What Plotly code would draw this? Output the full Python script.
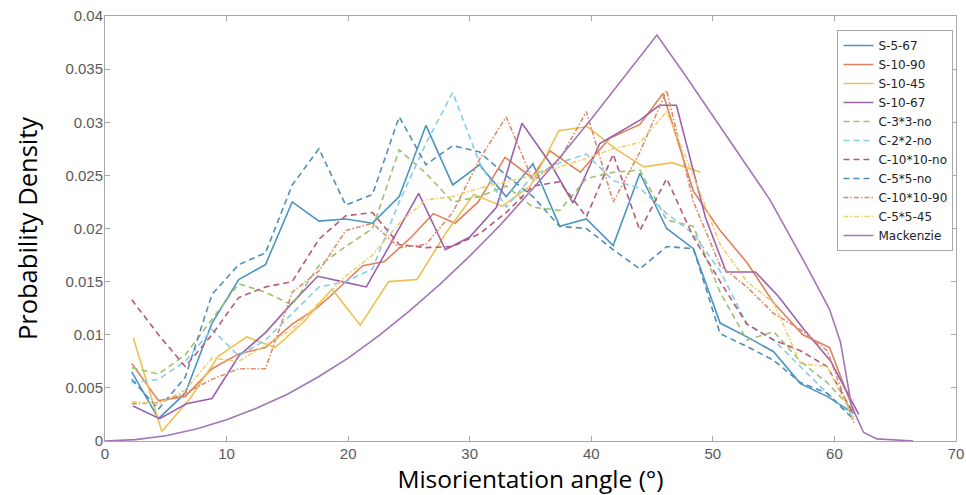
import plotly.graph_objects as go

# ---------------- data ----------------
grid_x = [2.2, 4.4, 6.6, 8.8, 11.0, 13.2, 15.4, 17.6, 19.8, 22.0, 24.2, 26.4, 28.6, 30.8,
          33.0, 35.2, 37.4, 39.6, 41.8, 44.0, 46.2, 48.4, 50.6, 52.8, 55.0, 57.2, 59.4, 61.6]

s_5_67 = [0.0065, 0.0021, 0.0045, 0.0111, 0.0152, 0.0166, 0.0225, 0.0207, 0.0209, 0.0205,
          0.0230, 0.0297, 0.0241, 0.0260, 0.0230, 0.0261, 0.0202, 0.0209, 0.0184, 0.0252,
          0.0200, 0.0181, 0.0111, 0.0098, 0.0084, 0.0054, 0.0042, 0.0026]

s_10_90_x = [2.2, 4.4, 6.6, 8.8, 11.0, 13.2, 15.4, 17.4, 18.5, 21.2, 23.0, 25.2, 27.0, 28.8,
             30.7, 32.9, 35.1, 36.6, 39.1, 41.5, 44.0, 45.9, 48.4, 50.6, 52.8, 55.0, 57.4,
             59.6, 61.6]
s_10_90 = [0.0073, 0.0038, 0.0042, 0.0068, 0.0082, 0.0088, 0.0110, 0.0125, 0.0136, 0.0165,
           0.0169, 0.0192, 0.0214, 0.0205, 0.0225, 0.0267, 0.0248, 0.0273, 0.0253, 0.0285,
           0.0298, 0.0327, 0.0235, 0.0198, 0.0168, 0.0130, 0.0100, 0.0088, 0.0028]

s_10_45_x = [2.33, 4.67, 7.0, 9.33, 11.67, 14.0, 16.33, 18.67, 21.0, 23.33, 25.67, 28.0,
             30.33, 32.67, 35.0, 37.33, 39.67, 42.0, 44.33, 46.67, 49.0]
s_10_45 = [0.0097, 0.0009, 0.0040, 0.0080, 0.0098, 0.0088, 0.0112, 0.0143, 0.0109, 0.0150,
           0.0152, 0.0195, 0.0232, 0.0221, 0.0240, 0.0292, 0.0296, 0.0275, 0.0258, 0.0262,
           0.0253]

s_10_67_x = [2.3, 4.5, 6.7, 8.8, 11.0, 13.2, 15.4, 17.5, 19.5, 21.5, 25.8, 28.0, 30.0, 32.2,
             34.3, 36.7, 38.5, 40.7, 44.0, 45.6, 47.0, 49.4, 51.1, 53.5, 55.4, 57.5, 59.7, 62.0]
s_10_67 = [0.0033, 0.0021, 0.0035, 0.0040, 0.0080, 0.0102, 0.0130, 0.0155, 0.0150, 0.0145,
           0.0233, 0.0180, 0.0192, 0.0220, 0.0299, 0.0260, 0.0224, 0.0280, 0.0302, 0.0316,
           0.0316, 0.0210, 0.0159, 0.0159, 0.0136, 0.0105, 0.0075, 0.0025]

c_3x3_no = [0.0069, 0.0063, 0.0081, 0.0115, 0.0148, 0.0140, 0.0128, 0.0165, 0.0183, 0.0200,
            0.0274, 0.0252, 0.0225, 0.0230, 0.0240, 0.0220, 0.0217, 0.0247, 0.0253, 0.0255,
            0.0208, 0.0202, 0.0140, 0.0095, 0.0103, 0.0075, 0.0055, 0.0028]

c_2x2_no = [0.0055, 0.0058, 0.0075, 0.0105, 0.0080, 0.0095, 0.0120, 0.0145, 0.0150, 0.0162,
            0.0225, 0.0280, 0.0328, 0.0262, 0.0220, 0.0250, 0.0262, 0.0270, 0.0245, 0.0238,
            0.0214, 0.0195, 0.0160, 0.0110, 0.0095, 0.0070, 0.0045, 0.0022]

c_10x10_no = [0.0133, 0.0100, 0.0070, 0.0100, 0.0135, 0.0145, 0.0150, 0.0190, 0.0212, 0.0215,
              0.0185, 0.0182, 0.0183, 0.0195, 0.0215, 0.0240, 0.0244, 0.0211, 0.0270, 0.0198,
              0.0247, 0.0192, 0.0150, 0.0110, 0.0095, 0.0085, 0.0070, 0.0025]

c_5x5_no = [0.0058, 0.0030, 0.0060, 0.0138, 0.0166, 0.0177, 0.0241, 0.0275, 0.0222, 0.0232,
            0.0305, 0.0260, 0.0278, 0.0272, 0.0250, 0.0230, 0.0202, 0.0200, 0.0180, 0.0162,
            0.0183, 0.0181, 0.0101, 0.0089, 0.0076, 0.0055, 0.0045, 0.0020]

c_10x10_90 = [0.0035, 0.0036, 0.0045, 0.0058, 0.0068, 0.0068, 0.0140, 0.0160, 0.0198, 0.0205,
              0.0182, 0.0185, 0.0215, 0.0265, 0.0305, 0.0245, 0.0265, 0.0310, 0.0225, 0.0272,
              0.0330, 0.0225, 0.0165, 0.0145, 0.0120, 0.0105, 0.0085, 0.0017]

c_5x5_45 = [0.0037, 0.0035, 0.0048, 0.0078, 0.0075, 0.0090, 0.0105, 0.0130, 0.0155, 0.0175,
            0.0205, 0.0227, 0.0230, 0.0238, 0.0244, 0.0250, 0.0258, 0.0266, 0.0275, 0.0281,
            0.0310, 0.0250, 0.0185, 0.0150, 0.0130, 0.0073, 0.0070, 0.0020]

mack_x = [0, 2.5, 5, 7.5, 10, 12.5, 15, 17.5, 20, 22.5, 25, 27.5, 30, 32.5, 35, 37.5, 40,
          42.5, 45.4, 47.5, 50, 52.5, 54.7, 57.5, 59.6, 60.5, 61.4, 62.4, 63.5, 66.5]
mack_y = [0.0, 0.00013, 0.0005, 0.00112, 0.0020, 0.0031, 0.0044, 0.0060, 0.0078, 0.0099,
          0.0122, 0.0147, 0.0174, 0.0203, 0.0235, 0.0268, 0.0303, 0.0340, 0.0382, 0.0348,
          0.0306, 0.0265, 0.0227, 0.0169, 0.0124, 0.0093, 0.0033, 0.0008, 0.0002, 0.0]

x_ticks = [0, 10, 20, 30, 40, 50, 60, 70]
y_ticks = [0, 0.005, 0.01, 0.015, 0.02, 0.025, 0.03, 0.035, 0.04]
y_tick_text = ["0", "0.005", "0.01", "0.015", "0.02", "0.025", "0.03", "0.035", "0.04"]

# ---------------- figure ----------------
DASH = "6px,4px"
DASHDOT = "5px,2px,1.5px,2px"

series = [
    ("S-5-67", grid_x, s_5_67, "#4b94c3", "solid"),
    ("S-10-90", s_10_90_x, s_10_90, "#e0825a", "solid"),
    ("S-10-45", s_10_45_x, s_10_45, "#efc04f", "solid"),
    ("S-10-67", s_10_67_x, s_10_67, "#9a62ad", "solid"),
    ("C-3*3-no", grid_x, c_3x3_no, "#9cc26c", DASH),
    ("C-2*2-no", grid_x, c_2x2_no, "#84cdec", DASH),
    ("C-10*10-no", grid_x, c_10x10_no, "#b35a78", DASH),
    ("C-5*5-no", grid_x, c_5x5_no, "#4f8fb8", DASH),
    ("C-10*10-90", grid_x, c_10x10_90, "#de8b6a", DASHDOT),
    ("C-5*5-45", grid_x, c_5x5_45, "#f1cf6a", DASHDOT),
    ("Mackenzie", mack_x, mack_y, "#a474b8", "solid"),
]

fig = go.Figure()
for name, xs, ys, color, dash in series:
    fig.add_trace(go.Scatter(
        x=xs, y=ys, name=name, mode="lines",
        line=dict(color=color, width=1.6, dash=dash),
    ))

axis_common = dict(
    automargin=False,
    showline=True, linecolor="#a8a8a8", linewidth=1, mirror="ticks",
    ticks="inside", ticklen=5, tickcolor="#a8a8a8", tickwidth=1,
    showgrid=False, zeroline=False,
    tickfont=dict(family="Liberation Sans, Arial", size=15, color="#5a5a5a"),
)

fig.update_layout(
    width=966, height=495,
    margin=dict(l=105, r=10, t=16, b=54),
    paper_bgcolor="white", plot_bgcolor="white",
    showlegend=True,
    legend=dict(
        x=0.997, y=0.967, xanchor="right", yanchor="top",
        bgcolor="white", bordercolor="#a8a8a8", borderwidth=1,
        font=dict(family="DejaVu Sans", size=12, color="#222222"),
        tracegroupgap=0, itemwidth=30,
    ),
    xaxis=dict(
        range=[0, 70], tickvals=x_ticks, ticklabelstandoff=-1,
        title=dict(text="Misorientation angle (°)", standoff=6,
                   font=dict(family="Open Sans", size=24.5, color="black")),
        **axis_common,
    ),
    yaxis=dict(
        range=[0, 0.04], tickvals=y_ticks, ticktext=y_tick_text, ticklabelstandoff=-2,
        title=dict(text="Probability Density", standoff=20,
                   font=dict(family="Open Sans", size=25.5, color="black")),
        **axis_common,
    ),
)

fig.write_html("out.html",
               config={"displayModeBar": False},
               post_script="document.body.style.margin='0';document.body.style.overflow='hidden';")
